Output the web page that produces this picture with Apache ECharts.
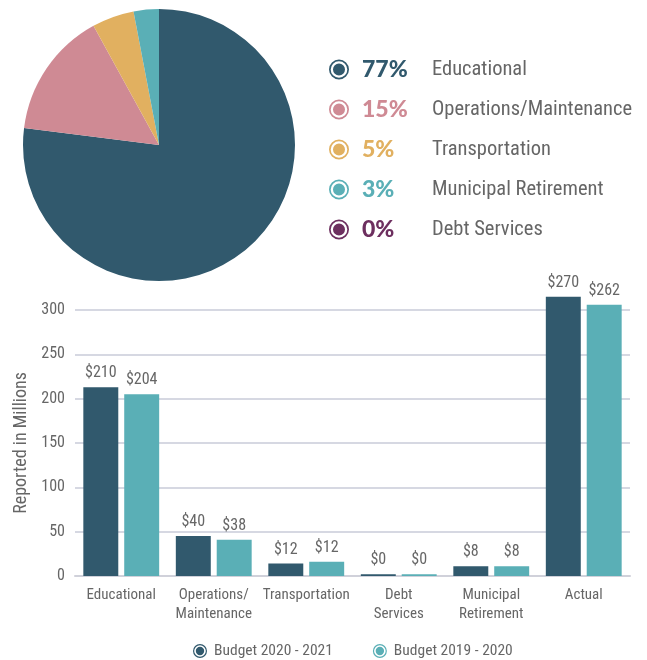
<!DOCTYPE html>
<html>
<head>
<meta charset="utf-8">
<script src="https://cdn.jsdelivr.net/npm/echarts@6/dist/echarts.min.js"></script>
<style>
html,body{margin:0;padding:0;background:#fff;}
#c{width:647px;height:660px;}
</style>
</head>
<body>
<div id="c"></div>
<script>
// ---- data ----
var pieNames = ['Educational', 'Operations/Maintenance', 'Transportation', 'Municipal Retirement', 'Debt Services'];
var piePercents = [77, 15, 5, 3, 0];
var pieColors = ['#31596d', '#cf8a94', '#e1b060', '#5aafb6', '#6d2f5f'];

var categories = ['Educational', 'Operations/\nMaintenance', 'Transportation', 'Debt\nServices', 'Municipal\nRetirement', 'Actual'];
var seriesNames = ['Budget 2020 - 2021', 'Budget 2019 - 2020'];
var values2021 = [213, 45, 14, 2, 11, 315];
var values2020 = [205, 41, 16, 2, 11, 306];
var labels2021 = ['$210', '$40', '$12', '$0', '$8', '$270'];
var labels2020 = ['$204', '$38', '$12', '$0', '$8', '$262'];
var yTicks = [0, 50, 100, 150, 200, 250, 300];

var barColors = ['#31596d', '#5aafb6'];
var FONT = "'Liberation Sans Narrow','Arial Narrow','Roboto Condensed',sans-serif";
var ringIcon = 'path://M10,0A10,10 0 1,1 10,20A10,10 0 1,1 10,0Z M10,1.7A8.3,8.3 0 1,0 10,18.3A8.3,8.3 0 1,0 10,1.7Z M10,4A6,6 0 1,1 10,16A6,6 0 1,1 10,4Z';

var rich = { n: { fontFamily: FONT, fontSize: 20.5, color: '#666666', lineHeight: 26 } };
pieColors.forEach(function (c, i) {
  rich['p' + i] = { fontFamily: 'Lato', fontWeight: 900, fontSize: 23, color: c, width: 70, padding: [0, 0, 0, 8], lineHeight: 26 };
});

var chart = echarts.init(document.getElementById('c'));
chart.setOption({
  animation: false,
  textStyle: { fontFamily: FONT },
  legend: [
    {
      orient: 'vertical',
      left: 324, top: 53,
      itemWidth: 20, itemHeight: 20, itemGap: 17,
      icon: ringIcon,
      data: pieNames,
      formatter: function (name) {
        var i = pieNames.indexOf(name);
        return '{p' + i + '|' + piePercents[i] + '%}{n|' + name + '}';
      },
      textStyle: { rich: rich }
    },
    {
      orient: 'horizontal',
      left: 188, top: 638,
      itemWidth: 14, itemHeight: 14, itemGap: 40,
      icon: ringIcon,
      data: seriesNames,
      textStyle: { fontFamily: FONT, fontSize: 15.5, color: '#666666', padding: [0, 0, 0, 2] }
    }
  ],
  grid: { left: 75, right: 17, top: 310, bottom: 84, containLabel: false },
  xAxis: {
    type: 'category',
    data: categories,
    axisTick: { show: false },
    axisLine: { lineStyle: { color: '#d0d1da', width: 2 } },
    axisLabel: { fontFamily: FONT, fontSize: 15, color: '#666666', margin: 10, lineHeight: 19, interval: 0 }
  },
  yAxis: {
    type: 'value',
    min: 0, max: 300, interval: 50,
    name: 'Reported in Millions',
    nameLocation: 'middle',
    nameGap: 44,
    nameTextStyle: { fontFamily: FONT, fontSize: 18, color: '#666666' },
    axisLabel: { fontFamily: FONT, fontSize: 16, color: '#666666', margin: 10,
      formatter: function (v) { return yTicks.indexOf(v) >= 0 ? String(v) : ''; } },
    splitLine: { lineStyle: { color: '#c9cbd8', width: 1.5 } },
    axisLine: { show: false }, axisTick: { show: false }
  },
  series: [
    {
      type: 'pie',
      center: [159, 145],
      radius: 136,
      startAngle: 90,
      clockwise: true,
      label: { show: false },
      labelLine: { show: false },
      emphasis: { disabled: true },
      itemStyle: { borderWidth: 0 },
      data: pieNames.map(function (n, i) {
        return { name: n, value: piePercents[i], itemStyle: { color: pieColors[i] } };
      })
    },
    {
      type: 'bar',
      name: seriesNames[0],
      data: values2021,
      clip: false,
      barGap: '17%',
      barCategoryGap: '18%',
      itemStyle: { color: barColors[0] },
      label: { show: true, position: 'top', distance: 6, fontFamily: FONT, fontSize: 16, color: '#666666',
        formatter: function (p) { return labels2021[p.dataIndex]; } }
    },
    {
      type: 'bar',
      name: seriesNames[1],
      data: values2020,
      clip: false,
      barGap: '17%',
      barCategoryGap: '18%',
      itemStyle: { color: barColors[1] },
      label: { show: true, position: 'top', distance: 6, fontFamily: FONT, fontSize: 16, color: '#666666',
        formatter: function (p) { return labels2020[p.dataIndex]; } }
    }
  ]
});
</script>
</body>
</html>
